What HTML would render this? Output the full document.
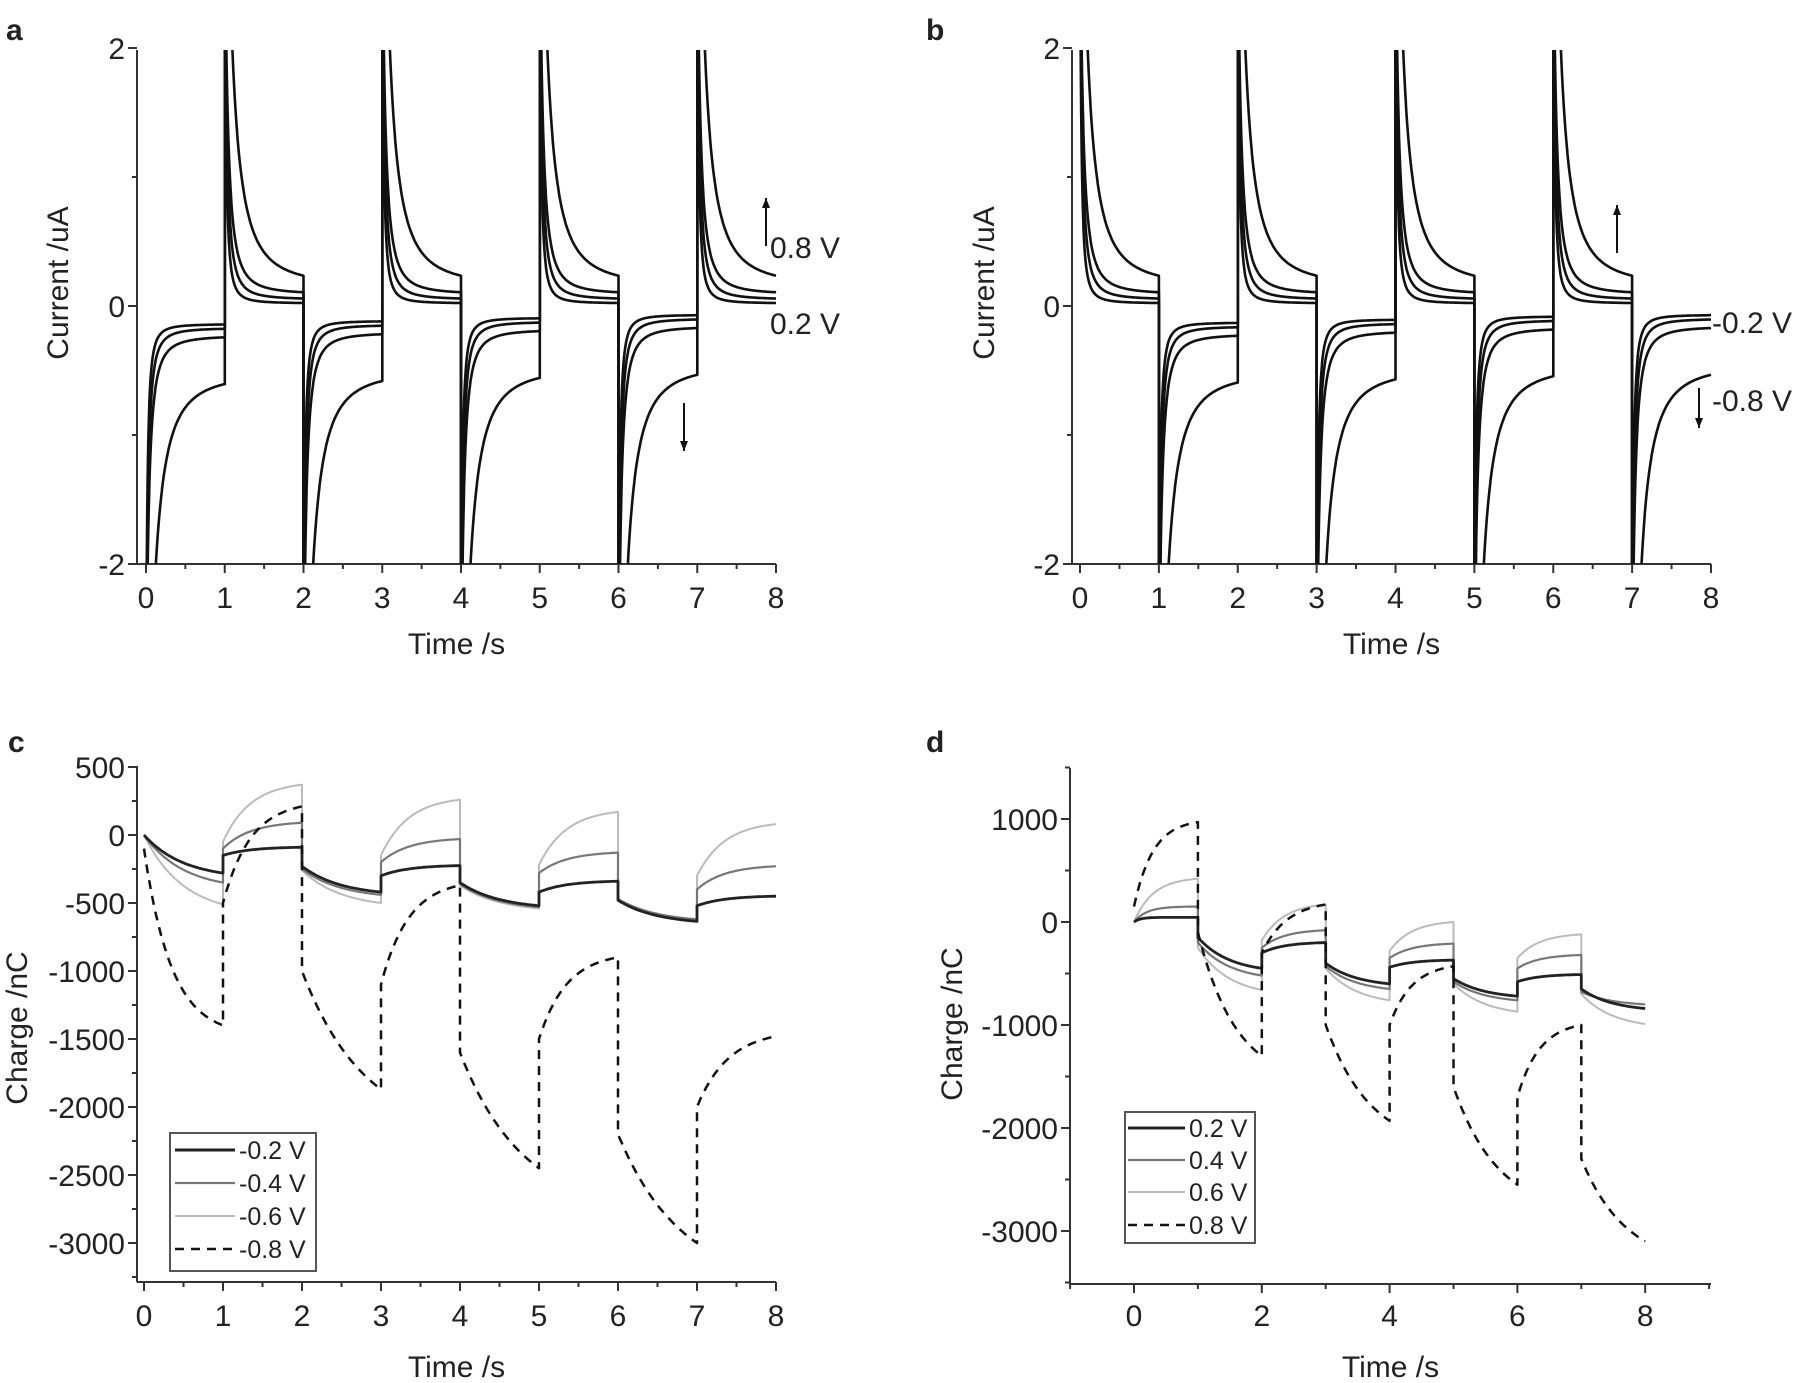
<!DOCTYPE html>
<html><head><meta charset="utf-8">
<style>
html,body{margin:0;padding:0;background:#fff;}
svg{display:block;}
text{font-family:"Liberation Sans",Arial,sans-serif;fill:#222;}
</style></head>
<body>
<svg id="s" width="1800" height="1383" viewBox="0 0 1800 1383" xmlns="http://www.w3.org/2000/svg">
<defs>
<clipPath id="ca"><rect x="137" y="50" width="640" height="514"/></clipPath>
<clipPath id="cb"><rect x="1072" y="50" width="640" height="514"/></clipPath>
</defs>
<text x="6" y="40" font-size="30" font-weight="bold">a</text>
<text x="926" y="40" font-size="30" font-weight="bold">b</text>
<text x="8" y="752" font-size="30" font-weight="bold">c</text>
<text x="926" y="752" font-size="30" font-weight="bold">d</text>
<g id="g"></g>
</svg>
<script>
var g=document.getElementById('g');var out='';
function L(x1,y1,x2,y2,w,c){out+='<line x1="'+x1+'" y1="'+y1+'" x2="'+x2+'" y2="'+y2+'" stroke="'+(c||'#333')+'" stroke-width="'+(w||2)+'"/>';}
function T(x,y,s,fs,anch,extra){out+='<text x="'+x+'" y="'+y+'" font-size="'+fs+'" text-anchor="'+(anch||'middle')+'" '+(extra||'')+'>'+s+'</text>';}
function P(d,w,c,extra){out+='<path d="'+d+'" fill="none" stroke="'+c+'" stroke-width="'+w+'" stroke-linejoin="round" '+(extra||'')+'/>';}
function curPanel(ax,x0,x8,inv,clip){
 var y0=306,ppu=129,yt=50,yb=564;
 function X(t){return x0+(x8-x0)*t/8;}
 function Y(v){return y0-v*ppu;}
 L(ax,yt,ax,yb);L(ax,yb,x8,yb);
 for(var i=0;i<=8;i++){L(X(i),yb,X(i),yb+9);T(X(i),608,i,30);}
 for(var i=0;i<8;i++){L(X(i+0.5),yb,X(i+0.5),yb+5);}
 [2,0,-2].forEach(function(v){L(ax-9,Y(v),ax,Y(v));T(ax-12,Y(v)+11,v==-2?'-2':v,30,'end');});
 [1,-1].forEach(function(v){L(ax-5,Y(v),ax,Y(v));});
 T((ax+x8)/2,654,'Time /s',30);
 var pos=[[0.02,0.035,3],[0.05,0.055,3],[0.09,0.08,3],[0.15,0.15,5]];
 var neg=[[-0.14,0.035,3],[-0.17,0.05,3],[-0.23,0.07,3],[-0.52,0.15,5]];
 for(var s=0;s<4;s++){
  var d='';
  for(var k=0;k<8;k++){
   var positive=inv?(k%2==0):(k%2==1);
   var p=positive?pos[s]:neg[s];
   var shift=positive?0:Math.min(k,6)*0.012;
   for(var j=0;j<=200;j++){
    var u=j/200;
    var v=p[0]+shift+(positive?1:-1)*p[2]/Math.pow(1+u/p[1],2);
    v=Math.max(-2.3,Math.min(2.3,v));
    d+=(d==''?'M':'L')+X(k+u).toFixed(1)+','+Y(v).toFixed(1);
   }
  }
  P(d,2.6,'#111','clip-path="url(#'+clip+')"');
 }
}
curPanel(137,146,776,false,'ca');
curPanel(1072,1080,1711,true,'cb');
T(58,283,'Current /uA',30,'middle','transform="rotate(-90 58 283)" dy="10"');
T(984,283,'Current /uA',30,'middle','transform="rotate(-90 984 283)" dy="10"');
function arrow(x,y1,y2){L(x,y1,x,y2,2,'#111');var dir=y2<y1?1:-1;out+='<polygon points="'+(x-4)+','+(y2+dir*10)+' '+(x+4)+','+(y2+dir*10)+' '+x+','+y2+'" fill="#111"/>';}
arrow(766,246,198);T(770,258,'0.8 V',30,'start');T(770,334,'0.2 V',30,'start');
arrow(684,403,451);
arrow(1617,253,205);T(1712,333,'-0.2 V',30,'start');T(1712,411,'-0.8 V',30,'start');
arrow(1699,388,428);
function segs(X,Y,data,shapeR,shapeF){
 var d='';
 for(var k=0;k<data.length;k++){
  var s=data[k][0],e=data[k][1];var tau=data[k][2]||(e>s?shapeR:shapeF);
  for(var j=0;j<=60;j++){var u=j/60;var f=(1-Math.exp(-u/tau))/(1-Math.exp(-1/tau));
   var v=s+(e-s)*f;d+=(d==''?'M':'L')+X(k+u).toFixed(1)+','+Y(v).toFixed(1);}
 }
 return d;
}
(function(){
 var ax=137,x0=144,x8=776,y0=835,pp=68/500,yt=766,yb=1282;
 function X(t){return x0+(x8-x0)*t/8;}function Y(v){return y0-v*pp;}
 L(ax,yt,ax,yb);L(ax,yb,x8,yb);
 for(var i=0;i<=8;i++){L(X(i),yb,X(i),yb+9);T(X(i),1326,i,30);}
 for(var i=0;i<8;i++){L(X(i+0.5),yb,X(i+0.5),yb+5);}
 for(var v=500;v>=-3000;v-=500){L(ax-9,Y(v),ax,Y(v));T(ax-12,Y(v)+11,v,30,'end');}
 for(var v=250;v>=-3250;v-=500){L(ax-5,Y(v),ax,Y(v));}
 T((ax+x8)/2,1377,'Time /s',30);
 T(17,1028,'Charge /nC',30,'middle','transform="rotate(-90 17 1028)" dy="10"');
 var s1=[[0,-280],[-150,-90],[-230,-420],[-300,-225],[-350,-520],[-420,-340],[-480,-635],[-520,-450]];
 var s2=[[0,-350],[-100,90],[-250,-440],[-200,-30],[-360,-530],[-280,-130],[-470,-620],[-400,-230]];
 var s3=[[0,-510],[-50,370],[-260,-500],[-150,260],[-370,-540],[-220,170],[-480,-620],[-300,80]];
 var s4=[[-100,-1400,0.35],[-500,210,0.35],[-1000,-1870,0.8],[-1100,-370,0.35],[-1600,-2450,0.8],[-1500,-900,0.35],[-2200,-3000,0.8],[-2000,-1480,0.4]];
 P(segs(X,Y,s3,0.35,0.5),2,'#bbb');P(segs(X,Y,s2,0.35,0.5),2.2,'#777');P(segs(X,Y,s1,0.35,0.5),2.8,'#222');
 P(segs(X,Y,s4,0.35,0.6),2.5,'#111','stroke-dasharray="9,7"');
 out+='<rect x="170" y="1133" width="146" height="138" fill="#fff" stroke="#555" stroke-width="2"/>';
 var ly=[1150,1183,1216,1249],lc=['#222','#777','#bbb','#111'],lw=[3,2.2,2,2.5],lt=['-0.2 V','-0.4 V','-0.6 V','-0.8 V'];
 for(var i=0;i<4;i++){out+='<line x1="175" y1="'+ly[i]+'" x2="235" y2="'+ly[i]+'" stroke="'+lc[i]+'" stroke-width="'+lw[i]+'" '+(i==3?'stroke-dasharray="9,7"':'')+'/>';T(239,ly[i]+9,lt[i],25,'start');}
})();
(function(){
 var ax=1070,x0=1134,u=63.9,y0=922,pp=103/1000,yt=768,yb=1284,xr=1711;
 function X(t){return x0+u*t;}function Y(v){return y0-v*pp;}
 L(ax,yt,ax,yb);L(ax,yb,xr,yb);
 for(var i=0;i<=8;i+=2){L(X(i),yb,X(i),yb+9);T(X(i),1326,i,30);}
 for(var i=-1;i<=9;i+=2){L(X(i),yb,X(i),yb+5);}
 for(var v=1000;v>=-3000;v-=1000){L(ax-9,Y(v),ax,Y(v));T(ax-12,Y(v)+11,v,30,'end');}
 for(var v=1500;v>=-3500;v-=1000){L(ax-5,Y(v),ax,Y(v));}
 T((ax+xr)/2,1377,'Time /s',30);
 T(952,1024,'Charge /nC',30,'middle','transform="rotate(-90 952 1024)" dy="10"');
 var s1=[[0,45,0.1],[-150,-450],[-300,-200],[-400,-600],[-440,-370],[-550,-720],[-580,-510],[-650,-840]];
 var s2=[[0,150,0.2],[-200,-520],[-250,-80],[-430,-650],[-350,-210],[-580,-760],[-450,-320],[-680,-800]];
 var s3=[[0,420,0.3],[-250,-660],[-180,170],[-450,-760],[-280,0],[-600,-870],[-350,-120],[-700,-990]];
 var s4=[[150,970,0.3],[-100,-1300,0.6],[-300,170,0.4],[-1000,-1930,0.7],[-1000,-430,0.35],[-1600,-2550,0.7],[-1700,-1000,0.35],[-2300,-3100,0.7]];
 P(segs(X,Y,s3,0.35,0.5),2,'#bbb');P(segs(X,Y,s2,0.35,0.5),2.2,'#777');P(segs(X,Y,s1,0.35,0.5),2.8,'#222');
 P(segs(X,Y,s4,0.35,0.6),2.5,'#111','stroke-dasharray="9,7"');
 out+='<rect x="1125" y="1112" width="130" height="131" fill="#fff" stroke="#555" stroke-width="2"/>';
 var ly=[1128,1160,1192,1225],lc=['#222','#777','#bbb','#111'],lw=[3,2.2,2,2.5],lt=['0.2 V','0.4 V','0.6 V','0.8 V'];
 for(var i=0;i<4;i++){out+='<line x1="1128" y1="'+ly[i]+'" x2="1185" y2="'+ly[i]+'" stroke="'+lc[i]+'" stroke-width="'+lw[i]+'" '+(i==3?'stroke-dasharray="9,7"':'')+'/>';T(1189,ly[i]+9,lt[i],25,'start');}
})();
g.innerHTML=out;
</script>
</body></html>
